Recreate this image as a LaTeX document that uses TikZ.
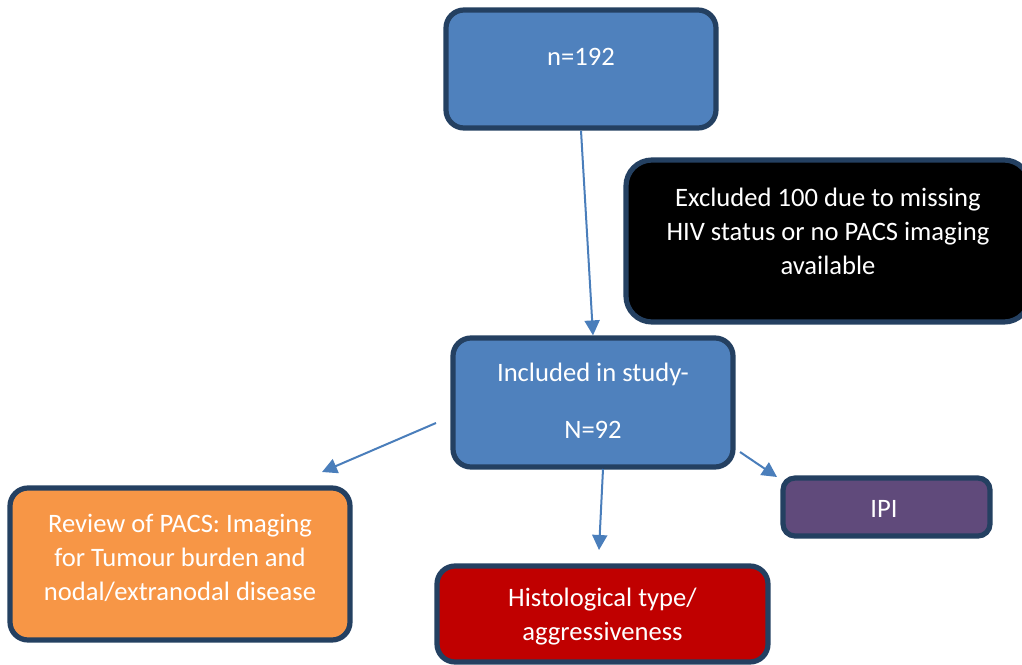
\documentclass[tikz,border=0pt]{standalone}
\usepackage{fontspec}
\setmainfont{Carlito}
\usetikzlibrary{arrows.meta}
\definecolor{boxblue}{RGB}{79,129,189}
\definecolor{boxline}{RGB}{36,64,97}
\definecolor{boxorange}{RGB}{247,150,70}
\definecolor{boxred}{RGB}{192,0,0}
\definecolor{boxpurple}{RGB}{96,74,123}
\definecolor{arrowblue}{RGB}{74,126,187}
\begin{document}
\begin{tikzpicture}[
    x=0.5pt,
    y=-0.5pt,
    stepbox/.style={draw=boxline, line width=2.6pt, rounded corners=9pt, inner sep=0pt},
    boxtext/.style={text=white, align=center, font=\fontsize{13.3}{17}\selectfont},
    flow/.style={draw=arrowblue, line width=1pt, -{Triangle[length=7.5pt,width=7.5pt]}}
  ]
    \useasboundingbox (0,0) rectangle (1022,664);
    \clip (0,0) rectangle (1022,664);

    % boxes
    \node[stepbox, fill=boxblue, minimum width=135pt, minimum height=59pt] (total) at (581,69) {};
    \node[boxtext] (totaltext) at (581,57) {n=192};

    \node[stepbox, fill=black, rounded corners=13pt, minimum width=202pt, minimum height=81pt] (excluded) at (828,241) {};
    \node[boxtext] (excludedtext) at (828,231) {Excluded 100 due to missing\\HIV status or no PACS imaging\\available};

    \node[stepbox, fill=boxblue, minimum width=140pt, minimum height=64.5pt] (included) at (593,402.5) {};
    \node[boxtext] (includedtext) at (593,400.5) {Included in study-\\[11.5pt]N=92};

    \node[stepbox, fill=boxorange, minimum width=170pt, minimum height=76pt] (review) at (180,564) {};
    \node[boxtext] (reviewtext) at (180,558) {Review of PACS: Imaging\\for Tumour burden and\\nodal/extranodal disease};

    \node[stepbox, fill=boxred, minimum width=165.5pt, minimum height=48pt] (histology) at (602.5,614) {};
    \node[boxtext] (histologytext) at (602.5,616.5) {Histological type/\\aggressiveness};

    \node[stepbox, fill=boxpurple, rounded corners=6pt, minimum width=103.5pt, minimum height=29pt] (ipi) at (886.5,507) {};
    \node[boxtext] (ipitext) at (884,509) {IPI};

    % free arrow ends
    \coordinate (leftstart) at (436,423);
    \coordinate (leftend) at (322,472);
    \coordinate (downstart) at (603,469);
    \coordinate (downend) at (599,550);
    \coordinate (rightstart) at (740,452);
    \coordinate (rightend) at (777,477);

    % arrows
    \draw[flow] (total.south) -- (included.north);
    \draw[flow] (leftstart) -- (leftend);
    \draw[flow] (downstart) -- (downend);
    \draw[flow] (rightstart) -- (rightend);
\end{tikzpicture}
\end{document}
